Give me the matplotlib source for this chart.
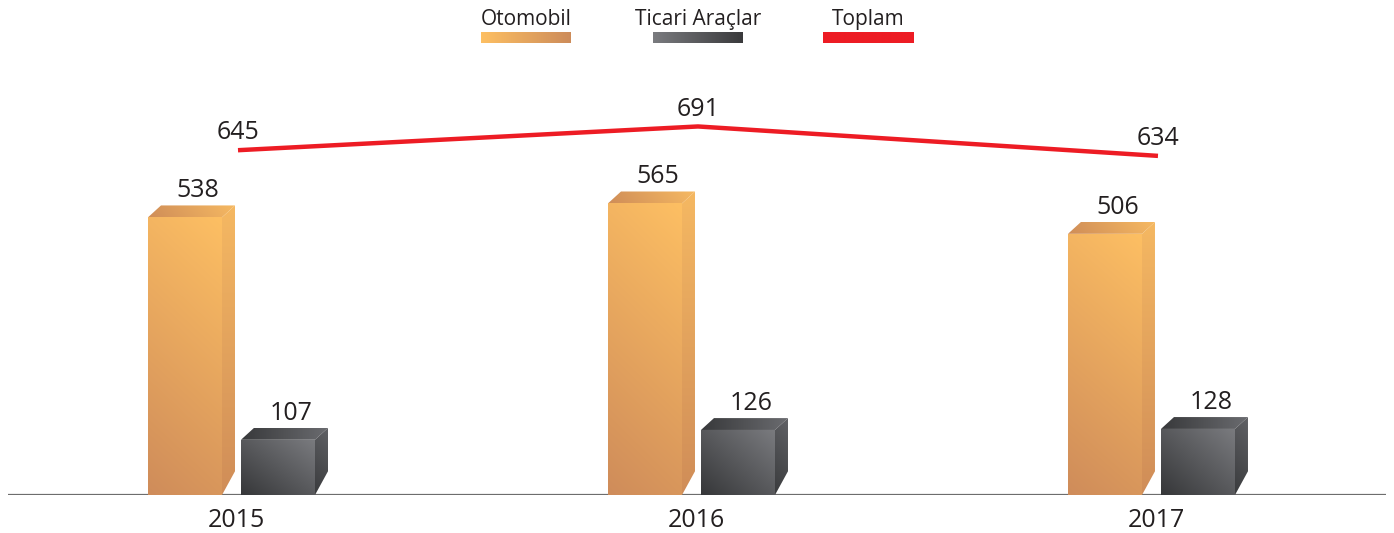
import numpy as np
import matplotlib
matplotlib.use("Agg")
import matplotlib.pyplot as plt
from matplotlib.patches import Polygon
from matplotlib.colors import to_rgb

years = ["2015", "2016", "2017"]
otomobil = [538, 565, 506]
ticari = [107, 126, 128]
toplam = [645, 691, 634]
series_names = ["Otomobil", "Ticari Araçlar", "Toplam"]

plt.rcParams['font.family'] = ['Open Sans', 'DejaVu Sans']
TXT = '#231F20'

W, H = 1394, 533
fig = plt.figure(figsize=(W / 100, H / 100), dpi=100)
ax = fig.add_axes([8 / W, 38 / H, 1378 / W, 495 / H])
XL = (-0.5, 2.4957)
YL = (0, 959)
ax.axis('off')

# geometry (data units)
bw = 74 / 460
dx = 13 / 460
dy = 23
cut = 46
offs = [-90 / 460, 3 / 460]


def grad(c0, c1, a, b, n=80):
    yy, xx = np.mgrid[0:1:n * 1j, 0:1:n * 1j]
    t = a * xx + b * yy
    t = (t - t.min()) / (t.max() - t.min())
    c0 = np.array(to_rgb(c0)); c1 = np.array(to_rgb(c1))
    return c0[None, None, :] * (1 - t[..., None]) + c1[None, None, :] * t[..., None]


def face(verts, c0, c1, a, b, z=3):
    poly = Polygon(verts, closed=True, fc='none', ec='none')
    ax.add_patch(poly)
    vs = np.array(verts)
    ext = (vs[:, 0].min(), vs[:, 0].max(), vs[:, 1].min(), vs[:, 1].max())
    im = ax.imshow(grad(c0, c1, a, b), extent=ext, origin='lower', aspect='auto',
                   interpolation='bilinear', zorder=z)
    im.set_clip_path(poly)


styles = {
    0: dict(front=('#CF8C5A', '#FDBF63', 0.25, 1.0),
            side=('#D08D58', '#F5B862', 0.0, 1.0),
            top=('#CF8D58', '#F6B962', 1.0, 0.1)),
    1: dict(front=('#363739', '#7A7B7F', 0.7, 0.7),
            side=('#3A3B3D', '#606165', 0.2, 1.0),
            top=('#38393B', '#6A6B6F', 1.0, 0.0)),
}

ax.axhline(0, color='#6d6d6d', lw=1.6, zorder=1)

for s, vals in enumerate([otomobil, ticari]):
    st = styles[s]
    for i, v in enumerate(vals):
        xl = i + offs[s]
        xr = xl + bw
        face([(xl, 0), (xr, 0), (xr, v), (xl, v)], *st['front'])
        face([(xl, v), (xr, v), (xr + dx, v + dy), (xl + dx, v + dy)], *st['top'])
        face([(xr, 0), (xr + dx, cut), (xr + dx, v + dy), (xr, v)], *st['side'])
        ax.text(xl + bw / 2 + dx, v + dy + 15.5, str(v), ha='center', va='baseline',
                fontsize=18, color=TXT, zorder=5)

xs = np.arange(len(years))
ax.plot(xs, [t + dy for t in toplam], color='#ED1C24', lw=3.2, solid_capstyle='butt', zorder=4)
for i, t in enumerate(toplam):
    ax.text(i, t + dy + 21, str(t), ha='center', va='baseline', fontsize=18, color=TXT, zorder=5)

for i, y in enumerate(years):
    ax.text(i - 0.004, -62, y, ha='center', va='baseline', fontsize=18, color=TXT, clip_on=False)

ax.set_xlim(*XL)
ax.set_ylim(*YL)

# legend
leg = [(526, '#FDBF63', '#CD8C5A'), (698, '#7A7B7F', '#3A3A3C'), (868, '#ED1C24', '#ED1C24')]
for (cx, c0, c1), name in zip(leg, series_names):
    lax = fig.add_axes([(cx - 45) / W, 1 - 43 / H, 90 / W, 11 / H])
    lax.imshow(grad(c0, c1, 1.0, 0.0), aspect='auto', extent=(0, 1, 0, 1), interpolation='bilinear')
    lax.axis('off')
    fig.text(cx / W, 1 - 25 / H, name, ha='center', va='baseline', fontsize=15, color=TXT)

fig.savefig('out.png', dpi=100)
